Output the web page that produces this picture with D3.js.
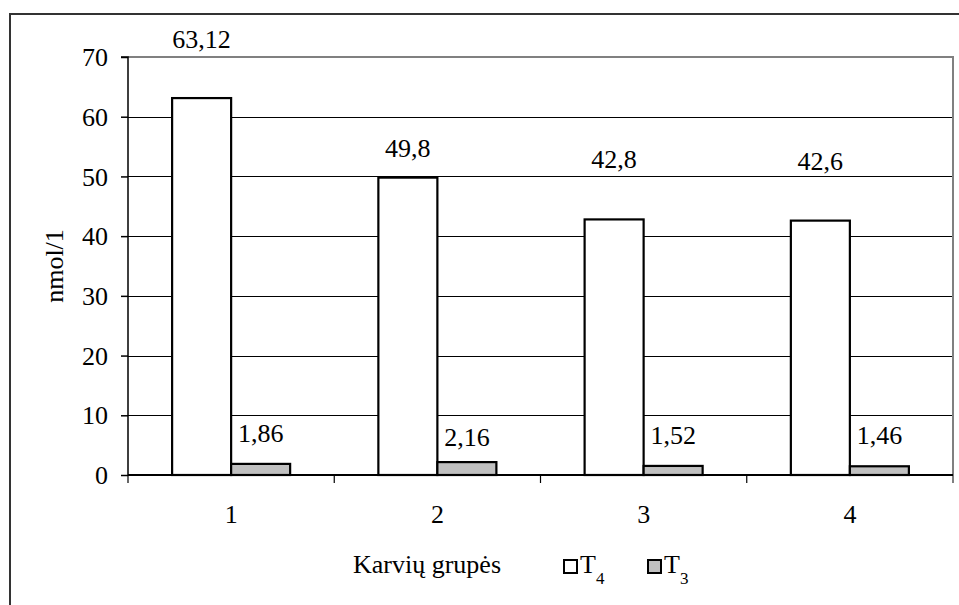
<!DOCTYPE html>
<html>
<head>
<meta charset="utf-8">
<script src="https://cdn.jsdelivr.net/npm/d3@7/dist/d3.min.js"></script>
<style>
  html, body { margin: 0; padding: 0; background: #fff; }
  svg { display: block; }
  svg text { font-family: 'Liberation Serif', 'Tinos', 'Times New Roman', 'DejaVu Serif', 'Noto Serif', serif !important; fill: #000; }
</style>
</head>
<body>
<svg id="chart" width="959" height="605" font-family="Liberation Serif, DejaVu Serif, serif"></svg>
<script>
// ---- data ----
const categories = ["1", "2", "3", "4"];
const seriesNames = ["T4", "T3"];
const t4Values = [63.12, 49.8, 42.8, 42.6];
const t3Values = [1.86, 2.16, 1.52, 1.46];
const t4Labels = ["63,12", "49,8", "42,8", "42,6"];
const t3Labels = ["1,86", "2,16", "1,52", "1,46"];
const yTicks = [0, 10, 20, 30, 40, 50, 60, 70];
const xTitle = "Karvių grupės";
const yTitle = "nmol/1";

// ---- layout (pixel offsets of the hand-placed value labels above bar tops) ----
const t4LabelGap = [50, 21, 51, 51];
const t3LabelGap = [22, 16, 22, 22];

const svg = d3.select("#chart");
const plot = { left: 128, right: 953, top: 57, bottom: 475 };
const fontSize = 26;
const FF = "'Liberation Serif', 'DejaVu Serif', serif";

// outer frame (cut off at right/bottom as in reference)
svg.append("rect")
  .attr("x", 10).attr("y", 14)
  .attr("width", 970).attr("height", 620)
  .attr("fill", "none").attr("stroke", "#333").attr("stroke-width", 2);

const x0 = d3.scaleBand().domain(categories).range([plot.left, plot.right]).paddingInner(0).paddingOuter(0);
const x1 = d3.scaleBand().domain(seriesNames).range([0, x0.bandwidth()]).paddingInner(0).paddingOuter(0.7475);
const y = d3.scaleLinear().domain([0, 70]).range([plot.bottom, plot.top]);

// gridlines
svg.append("g").selectAll("line")
  .data(yTicks.filter(d => d > 0 && d < 70))
  .join("line")
  .attr("x1", plot.left).attr("x2", plot.right)
  .attr("y1", d => Math.round(y(d)) + 0.5).attr("y2", d => Math.round(y(d)) + 0.5)
  .attr("stroke", "#000").attr("stroke-width", 1);

// plot-area border (top/right), gray
svg.append("path")
  .attr("d", `M${plot.left},${y(70)}H${plot.right}V${plot.bottom + 8}`)
  .attr("fill", "none").attr("stroke", "#808080").attr("stroke-width", 2);

const series = [
  { name: "T4", values: t4Values, labels: t4Labels, gaps: t4LabelGap, fill: "#ffffff" },
  { name: "T3", values: t3Values, labels: t3Labels, gaps: t3LabelGap, fill: "#c0c0c0" }
];

const groups = svg.append("g").selectAll("g")
  .data(categories)
  .join("g")
  .attr("transform", d => `translate(${x0(d)},0)`);

groups.each(function(cat, i) {
  const g = d3.select(this);
  series.forEach(s => {
    const v = s.values[i];
    g.append("rect")
      .attr("x", x1(s.name))
      .attr("y", y(v))
      .attr("width", x1.bandwidth())
      .attr("height", y(0) - y(v))
      .attr("fill", s.fill)
      .attr("stroke", "#000")
      .attr("stroke-width", 2.2);
    g.append("text")
      .attr("x", x1(s.name) + x1.bandwidth() / 2)
      .attr("y", y(v) - s.gaps[i])
      .attr("text-anchor", "middle")
      .attr("font-family", FF)
      .attr("font-size", fontSize)
      .text(s.labels[i]);
  });
});

// y axis
const yAxis = d3.axisLeft(y).tickValues(yTicks).tickSize(7).tickPadding(13).tickFormat(d3.format("d"));
const gy = svg.append("g").attr("transform", `translate(${plot.left},0)`).call(yAxis)
  .attr("font-family", FF).attr("font-size", fontSize);
gy.select(".domain").attr("stroke", "#000").attr("stroke-width", 1.5).attr("d", `M-7,${plot.top}H0V${plot.bottom}`);
gy.selectAll(".tick line").attr("stroke", "#000").attr("stroke-width", 1.5);
gy.selectAll(".tick text").attr("dy", "0.33em").attr("fill", "#000");

// x axis
const gx = svg.append("g");
gx.append("line")
  .attr("x1", plot.left).attr("x2", plot.right)
  .attr("y1", plot.bottom).attr("y2", plot.bottom)
  .attr("stroke", "#000").attr("stroke-width", 2);
gx.selectAll("line.tk")
  .data(categories)
  .join("line").attr("class", "tk")
  .attr("x1", d => x0(d)).attr("x2", d => x0(d))
  .attr("y1", plot.bottom).attr("y2", plot.bottom + 8)
  .attr("stroke", "#000").attr("stroke-width", 1.2);
gx.selectAll("text")
  .data(categories)
  .join("text")
  .attr("x", d => x0(d) + x0.bandwidth() / 2)
  .attr("y", 523)
  .attr("text-anchor", "middle")
  .attr("font-family", FF)
  .attr("font-size", fontSize)
  .text(d => d);

// y title
svg.append("text")
  .attr("transform", `translate(63,266) rotate(-90)`)
  .attr("text-anchor", "middle")
  .attr("font-family", FF)
  .attr("font-size", fontSize)
  .text(yTitle);

// x title + legend
svg.append("text")
  .attr("x", 353).attr("y", 573)
  .attr("font-family", FF)
  .attr("font-size", fontSize)
  .text(xTitle);

const legendX = [564, 648];
const legend = svg.append("g");
series.forEach((s, i) => {
  legend.append("rect")
    .attr("x", legendX[i]).attr("y", 560)
    .attr("width", 13).attr("height", 13)
    .attr("fill", s.fill).attr("stroke", "#000").attr("stroke-width", 2);
  const t = legend.append("text")
    .attr("x", legendX[i] + 16).attr("y", 573)
    .attr("font-family", FF)
    .attr("font-size", fontSize);
  t.append("tspan").text(s.name.charAt(0));
  t.append("tspan").attr("font-size", 17).attr("dy", 11).text(s.name.slice(1));
});
</script>
</body>
</html>
